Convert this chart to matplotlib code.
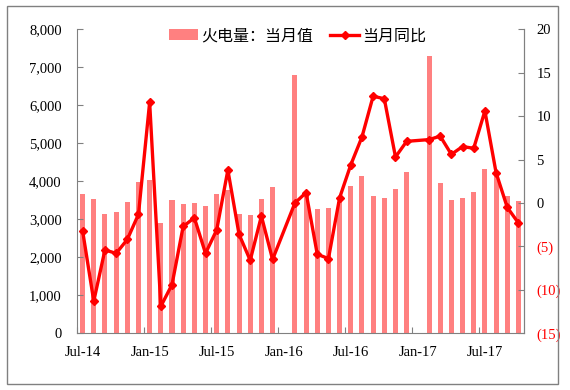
import numpy as np
import matplotlib
matplotlib.use("Agg")
import matplotlib.pyplot as plt
from matplotlib.patches import Rectangle
from matplotlib.ticker import FuncFormatter

# 월별 카테고리: 2014-07 ~ 2017-10 (1월은 1~2월 합산으로 비어 있음)
months = [
    "Jul-14", "Aug-14", "Sep-14", "Oct-14", "Nov-14", "Dec-14",
    "Jan-15", "Feb-15", "Mar-15", "Apr-15", "May-15", "Jun-15",
    "Jul-15", "Aug-15", "Sep-15", "Oct-15", "Nov-15", "Dec-15",
    "Jan-16", "Feb-16", "Mar-16", "Apr-16", "May-16", "Jun-16",
    "Jul-16", "Aug-16", "Sep-16", "Oct-16", "Nov-16", "Dec-16",
    "Jan-17", "Feb-17", "Mar-17", "Apr-17", "May-17", "Jun-17",
    "Jul-17", "Aug-17", "Sep-17", "Oct-17",
]
power_month = [
    3665, 3534, 3140, 3202, 3455, 3982,
    4035, 2912, 3499, 3411, 3437, 3359,
    3657, 3775, 3148, 3105, 3526, 3858,
    np.nan, 6789, 3750, 3280, 3297, 3464,
    3885, 4139, 3613, 3552, 3797, 4245,
    np.nan, 7297, 3964, 3517, 3552, 3718,
    4332, 4250, 3623, 3482,
]
yoy = [
    -3.2, -11.3, -5.4, -5.8, -4.2, -1.3,
    11.6, -11.9, -9.4, -2.7, -1.7, -5.8,
    -3.1, 3.8, -3.6, -6.6, -1.5, -6.5,
    np.nan, 0.0, 1.2, -5.9, -6.4, 0.6,
    4.4, 7.6, 12.3, 12.0, 5.3, 7.1,
    np.nan, 7.3, 7.7, 5.6, 6.5, 6.3,
    10.6, 3.5, -0.5, -2.3,
]
label_idx = [0, 6, 12, 18, 24, 30, 36]

BAR_COLOR = "#FF8080"
LINE_COLOR = "#FF0000"
AXIS_COLOR = "#808080"
SERIF = ["Liberation Serif", "DejaVu Serif"]
CJK = ["Noto Sans CJK SC", "DejaVu Sans"]

fig = plt.figure(figsize=(5.7, 3.9), dpi=100)
ax = fig.add_axes([0.1351, 0.1454, 0.7842, 0.7795])
ax2 = ax.twinx()

x = np.arange(len(months))
vals = np.asarray(power_month, dtype=float)
ok = ~np.isnan(vals)
bars = ax.bar(x[ok], vals[ok], width=0.45, color=BAR_COLOR, zorder=1)

ratio = np.asarray(yoy, dtype=float)
okr = ~np.isnan(ratio)
line, = ax2.plot(x[okr], ratio[okr], color=LINE_COLOR, linewidth=2.4,
                 marker="D", markersize=4, zorder=3)

ax.set_xlim(-0.5, len(months) - 0.5)
ax.set_ylim(0, 8000)
ax2.set_ylim(-15, 20)

# x축: 눈금은 카테고리 경계, 라벨은 카테고리 중앙
ax.set_xticks([i - 0.5 for i in label_idx])
ax.set_xticklabels([])
ax.set_xticks(label_idx, minor=True)
ax.set_xticklabels([months[i] for i in label_idx], minor=True,
                   family=SERIF, fontsize=10.5)
ax.tick_params(axis="x", which="major", direction="in", length=4,
               color=AXIS_COLOR)
ax.tick_params(axis="x", which="minor", length=0, pad=9)

ax.set_yticks(range(0, 8001, 1000))
ax.yaxis.set_major_formatter(FuncFormatter(lambda v, p: f"{int(v):,}"))
ax.tick_params(axis="y", direction="in", length=4, color=AXIS_COLOR, pad=11)
for t in ax.get_yticklabels():
    t.set_family(SERIF)
    t.set_fontsize(10.5)

r_ticks = list(range(-15, 21, 5))
ax2.set_yticks(r_ticks)
ax2.set_yticklabels([f"({-v})" if v < 0 else str(v) for v in r_ticks],
                    family=SERIF, fontsize=10.5)
for t, v in zip(ax2.get_yticklabels(), r_ticks):
    t.set_color("red" if v < 0 else "black")
ax2.tick_params(axis="y", direction="in", length=4, color=AXIS_COLOR, pad=9)

for a in (ax, ax2):
    a.spines["top"].set_visible(False)
    for s in ("left", "right", "bottom"):
        a.spines[s].set_color(AXIS_COLOR)
ax2.spines["left"].set_visible(False)
ax2.spines["bottom"].set_visible(False)

fig.legend([bars, line], ["火电量：当月值", "当月同比"], loc="center",
           bbox_to_anchor=(297.5 / 570, 0.9077), ncol=2, frameon=False,
           prop={"family": CJK, "size": 11.5}, handlelength=1.8,
           columnspacing=1.1, handletextpad=0.2)

fig.patches.append(Rectangle((7 / 570, 6 / 390), 551 / 570, 378 / 390,
                             transform=fig.transFigure, fill=False,
                             edgecolor=AXIS_COLOR, linewidth=1))

fig.savefig("out.png", dpi=100)
